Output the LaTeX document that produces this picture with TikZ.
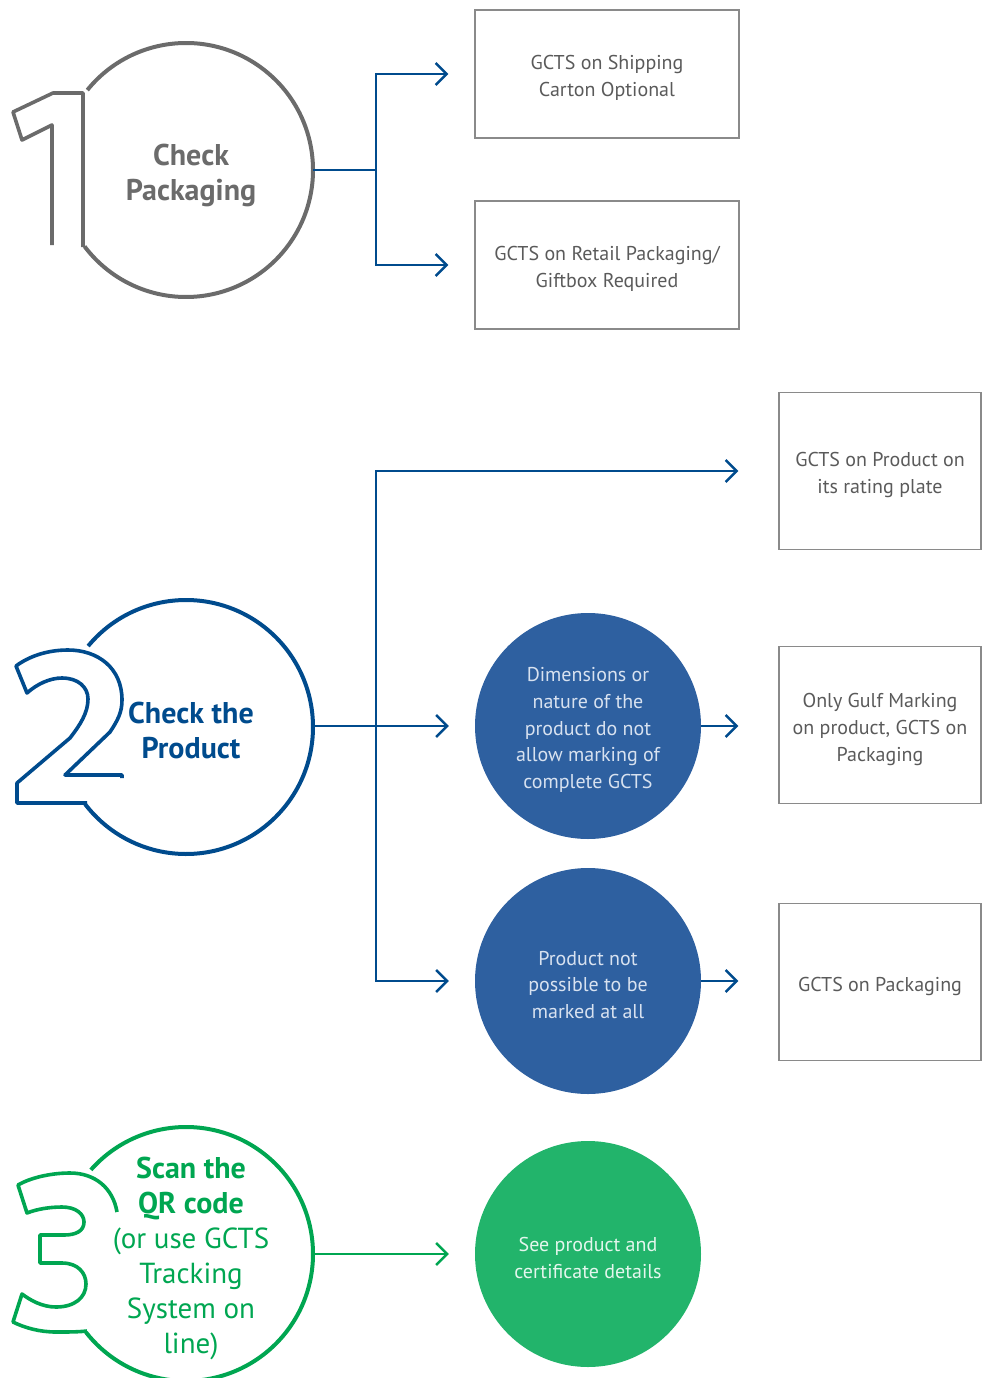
\documentclass[tikz,border=0pt]{standalone}
\usepackage{fontspec}
\setmainfont{PT Sans}
\usetikzlibrary{arrows.meta}
\definecolor{stepgray}{HTML}{6B6B6B}
\definecolor{stepblue}{HTML}{004B8D}
\definecolor{stepgreen}{HTML}{00A651}
\definecolor{fillblue}{HTML}{2E60A0}
\definecolor{fillgreen}{HTML}{22B46B}
\definecolor{boxgray}{HTML}{8A8A8A}
\definecolor{boxtext}{HTML}{5A5A5A}
\definecolor{disctext}{HTML}{D8E2F0}
\begin{document}
\begin{tikzpicture}[x=1pt,y=-1pt,
  ring/.style={line width=4pt},
  numeral/.style={line width=3.6pt, line join=round},
  anchorcircle/.style={circle, minimum size=254pt, inner sep=0pt},
  steptext/.style={align=center, font=\fontsize{29}{35}\selectfont},
  stepbold/.style={align=center, font=\fontsize{30}{35}\selectfont\bfseries},
  outbox/.style={draw=boxgray, line width=1.4pt, inner sep=0pt},
  boxlabel/.style={align=center, text=boxtext, font=\fontsize{20}{27}\selectfont, inner sep=0pt},
  disc/.style={circle, minimum size=226pt, inner sep=0pt},
  disclabel/.style={align=center, text=disctext, font=\fontsize{20}{26.7}\selectfont, inner sep=0pt},
  conn/.style={draw=stepblue, line width=2.4pt},
  arr/.style={-{Straight Barb[length=11pt,width=22pt,line width=2.4pt]}},
]
\useasboundingbox (0,0) rectangle (985,1378);

% ---------- step 1 ----------
\node[anchorcircle] (c1) at (186,170) {};
\draw[ring, stepgray] (186,170) ++(-141:127) arc[start angle=-141, end angle=143, radius=127];
\draw[numeral, stepgray] (52,245) -- (52,125) -- (22,140) -- (13,112) -- (53,93) -- (83,93) -- (83,247);
\node[stepbold, text=stepgray] (t1) at (191,175) {Check\\Packaging};

\node[outbox, minimum width=264pt, minimum height=128pt] (b1) at (607,74) {};
\node[boxlabel] (b1t) at (607,78) {GCTS on Shipping\\Carton Optional};
\node[outbox, minimum width=264pt, minimum height=128pt] (b2) at (607,265) {};
\node[boxlabel] (b2t) at (607,269) {GCTS on Retail Packaging/\\Giftbox Required};

\coordinate (j1) at (376,170);
\draw[conn] (c1.east) -- (j1);
\draw[conn, arr, shorten >=26pt] (j1) |- (b1.west);
\draw[conn, arr, shorten >=26pt] (j1) |- (b2.west);

% ---------- step 2 ----------
\node[anchorcircle] (c2) at (186,726) {};
\draw[ring, stepblue] (186,727) ++(-140.4:127) arc[start angle=-140.4, end angle=142.6, radius=127];
\draw[numeral, stepblue] (122,778) -- (122,775) -- (65,775) -- (110,732)
  .. controls (118,720) and (122,712) .. (122,700)
  .. controls (122,668) and (98,650) .. (68,650)
  .. controls (46,650) and (28,657) .. (16,666)
  -- (27,693)
  .. controls (37,684) and (50,678) .. (62,678)
  .. controls (78,678) and (88,687) .. (88,699)
  .. controls (88,713) and (80,725) .. (70,738)
  -- (17,783) -- (17,803) -- (87,803);
\node[stepbold, text=stepblue] (t2) at (191,730) {Check the\\Product};

\node[outbox, minimum width=202pt, minimum height=157pt] (b3) at (880,471) {};
\node[boxlabel] (b3t) at (880,475) {GCTS on Product on\\its rating plate};
\node[disc, fill=fillblue] (d1) at (588,726) {};
\node[disclabel] (d1t) at (588,730) {Dimensions or\\nature of the\\product do not\\allow marking of\\complete GCTS};
\node[outbox, minimum width=202pt, minimum height=157pt] (b4) at (880,725) {};
\node[boxlabel] (b4t) at (880,729) {Only Gulf Marking\\on product, GCTS on\\Packaging};
\node[disc, fill=fillblue] (d2) at (588,981) {};
\node[disclabel] (d2t) at (588,985) {Product not\\possible to be\\marked at all};
\node[outbox, minimum width=202pt, minimum height=157pt] (b5) at (880,982) {};
\node[boxlabel] (b5t) at (880,986) {GCTS on Packaging};

\coordinate (j2) at (376,726);
\draw[conn] (c2.east) -- (j2);
\draw[conn, arr, shorten >=40pt] (j2) |- (b3.west);
\draw[conn, arr, shorten >=26pt] (j2) -- (d1.west);
\draw[conn, arr, shorten >=26pt] (j2) |- (d2.west);
\draw[conn, arr, shorten >=40pt] (d1.east) -- (d1.east -| b4.west);
\draw[conn, arr, shorten >=40pt] (d2.east) -- (d2.east -| b5.west);

% ---------- step 3 ----------
\node[anchorcircle] (c3) at (186,1254) {};
\draw[ring, stepgreen] (186,1254) ++(-138.5:127) arc[start angle=-138.5, end angle=142, radius=127];
\draw[numeral, stepgreen] (117,1212)
  .. controls (113,1188) and (95,1173) .. (70,1173)
  .. controls (50,1173) and (30,1178) .. (18,1185)
  -- (27,1213)
  .. controls (37,1209) and (50,1207) .. (62,1207)
  .. controls (76,1207) and (84,1214) .. (84,1222)
  .. controls (84,1231) and (76,1235) .. (64,1235)
  -- (40,1235) -- (40,1263) -- (62,1263)
  .. controls (78,1263) and (86,1273) .. (86,1284)
  .. controls (86,1298) and (74,1307) .. (56,1307)
  .. controls (42,1307) and (30,1300) .. (22,1294)
  -- (13,1322)
  .. controls (25,1328) and (40,1332) .. (56,1332)
  .. controls (68,1332) and (78,1332) .. (87,1331);
\node[steptext, text=stepgreen] (t3) at (191,1258) {{\fontsize{30}{35}\selectfont\bfseries Scan the}\\{\fontsize{30}{35}\selectfont\bfseries QR code}\\(or use GCTS\\Tracking\\System on\\line)};

\node[disc, fill=fillgreen] (g1) at (588,1254) {};
\node[disclabel, text=white!88!fillgreen] (g1t) at (588,1258) {See product and\\certificate details};
\draw[draw=stepgreen, line width=2.4pt, arr, shorten >=26pt] (c3.east) -- (g1.west);
\end{tikzpicture}
\end{document}
